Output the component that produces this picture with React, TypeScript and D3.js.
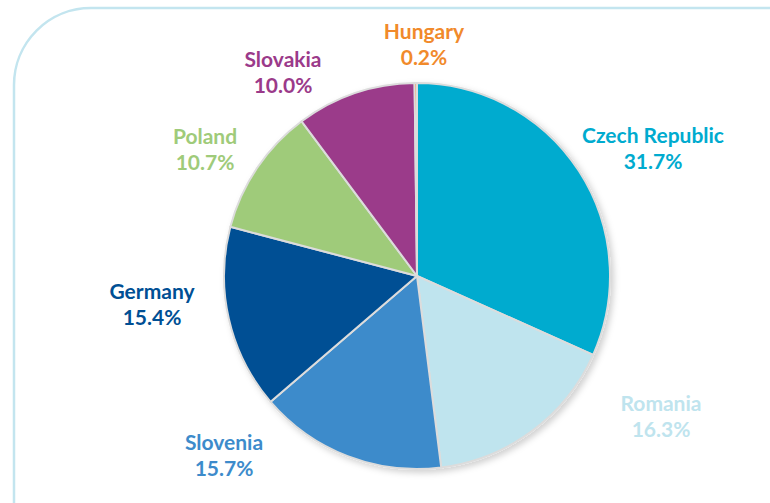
import React from "react";
import * as d3 from "d3";

const countries = ["Czech Republic", "Romania", "Slovenia", "Germany", "Poland", "Slovakia", "Hungary"];
const shares = [31.7, 16.3, 15.7, 15.4, 10.7, 10.0, 0.2];
const sliceColors = ["#00abcf", "#bfe4ee", "#3d8bcb", "#004f94", "#9fcb7a", "#9b3a8a", "#f18a2b"];

// label anchor (centre of the two-line label block), layout only
const labelAnchors: [number, number][] = [
  [653, 136],
  [661, 404],
  [224, 443],
  [152, 292],
  [205, 137],
  [283, 60],
  [424, 32],
];

const W = 770;
const H = 503;
const cx = 417;
const cy = 276;
const R = 193;

export default function App() {
  const pie = d3.pie<number>().sort(null).value((d) => d);
  const arcs = pie(shares);
  const arc = d3.arc<d3.PieArcDatum<number>>().innerRadius(0).outerRadius(R);

  return (
    <svg
      width={W}
      height={H}
      style={{ position: "absolute", left: 0, top: 0, background: "#fff" }}
      fontFamily="Lato, 'Open Sans', sans-serif"
    >
      <defs>
        <filter id="sh" x="-20%" y="-20%" width="140%" height="140%">
          <feDropShadow dx="3" dy="3" stdDeviation="3" floodColor="#000" floodOpacity="0.18" />
        </filter>
      </defs>
      <path
        d={`M 14 ${H + 10} L 14 85 A 77 77 0 0 1 91 8 L ${W + 10} 8`}
        fill="none"
        stroke="#c3e5ef"
        strokeWidth={2.5}
      />
      <g transform={`translate(${cx},${cy})`} filter="url(#sh)">
        {arcs.map((a, i) => (
          <path key={countries[i]} d={arc(a) || ""} fill={sliceColors[i]} stroke="#dcdcdc" strokeWidth={2} strokeLinejoin="round" />
        ))}
      </g>
      {arcs.map((a, i) => {
        const [lx, ly] = labelAnchors[i];
        return (
          <g key={"l" + i} fill={sliceColors[i]} fontWeight="bold" fontSize={21} textAnchor="middle">
            <text x={lx} y={ly + 7}>{countries[i]}</text>
            <text x={lx} y={ly + 33}>{d3.format(".1f")(shares[i])}%</text>
          </g>
        );
      })}
    </svg>
  );
}
